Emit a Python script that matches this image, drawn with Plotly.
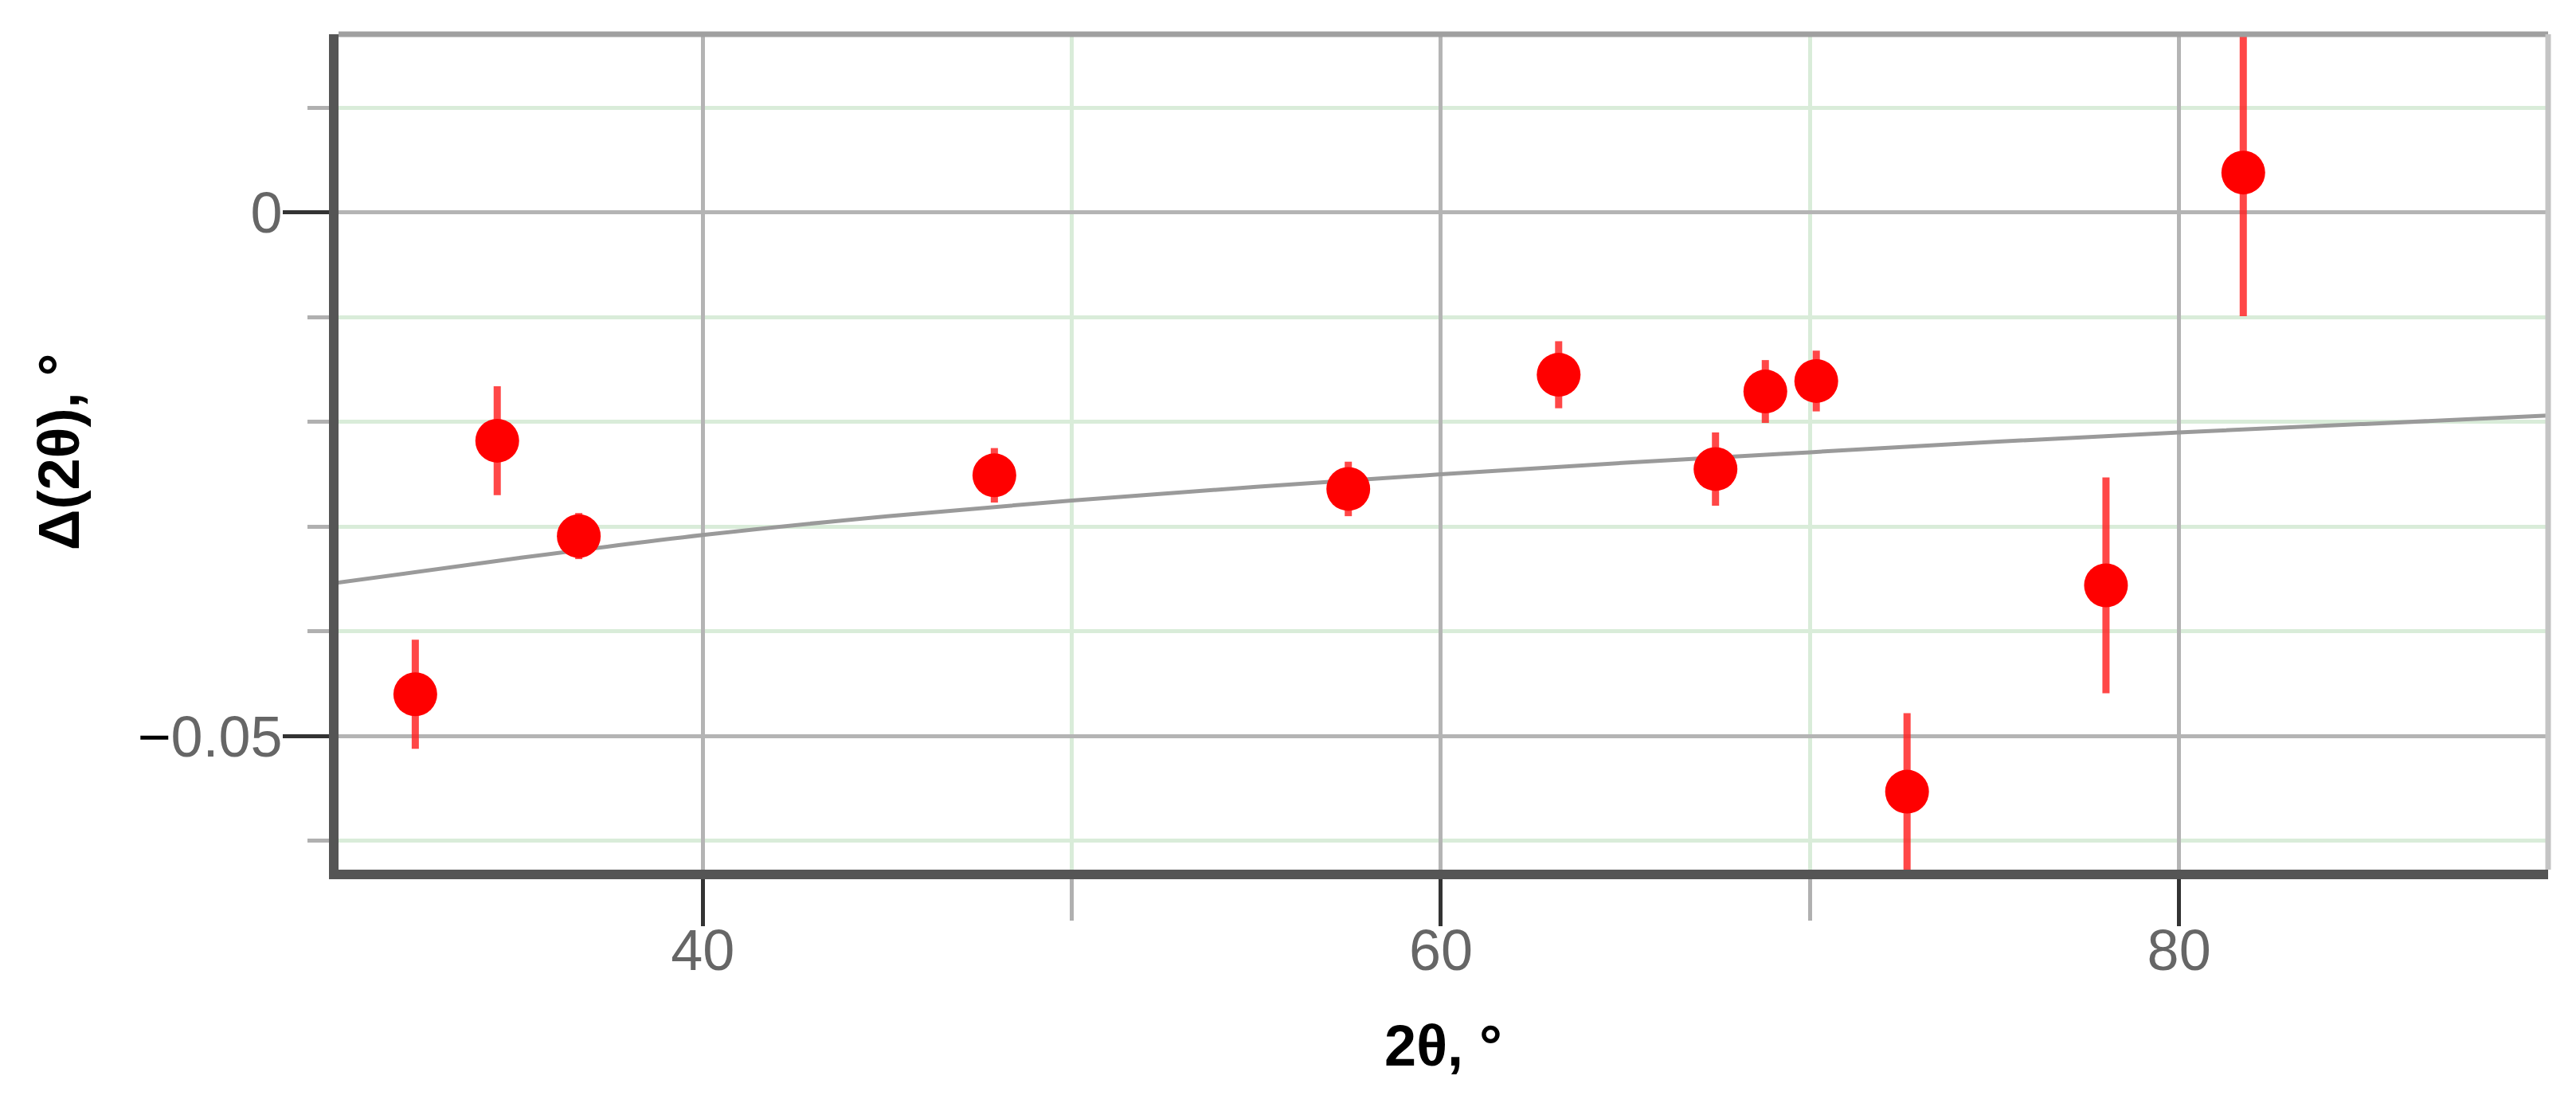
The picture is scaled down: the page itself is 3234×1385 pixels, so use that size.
import plotly.graph_objects as go

two_theta = [32.21, 34.43, 36.64, 47.9, 57.49, 63.19, 67.44, 68.79, 70.17, 72.63, 78.02, 81.74]
delta = [-0.0460, -0.0218, -0.0309, -0.0251, -0.0264, -0.0155, -0.0245, -0.0171, -0.0161, -0.0553, -0.0356, 0.0038]
delta_err = [0.0052, 0.0052, 0.0022, 0.0026, 0.0026, 0.0032, 0.0035, 0.0030, 0.0029, 0.0075, 0.0103, 0.0137]

# fitted curve
fit_x = [30, 35, 40, 45, 50, 55, 60, 65, 70, 75, 80, 85, 90]
fit_y = [-0.0354, -0.0330, -0.0308, -0.0290, -0.0275, -0.0262, -0.0250, -0.0239, -0.0229, -0.0219, -0.0210, -0.0202, -0.0194]

x_tick_vals = [40, 60, 80]
x_tick_text = ['40', '60', '80']
x_minor_vals = [50, 70]
y_tick_vals = [-0.05, 0]
y_tick_text = ["<span style='color:#000'>\u2212</span>0.05", '0']

FONT = 'Liberation Sans, Arial, sans-serif'

fig = go.Figure()

fig.add_trace(go.Scatter(
    x=fit_x, y=fit_y,
    mode='lines',
    line=dict(color='#9a9a9a', width=5, shape='spline'),
    hoverinfo='skip',
    showlegend=False,
))

fig.add_trace(go.Scatter(
    x=two_theta, y=delta,
    mode='markers',
    marker=dict(color='#ff0000', size=55, line=dict(width=0)),
    error_y=dict(type='data', array=delta_err, color='rgba(255,30,30,0.82)',
                 thickness=9, width=0),
    cliponaxis=False,
    showlegend=False,
))

fig.update_layout(
    width=3234, height=1385,
    margin=dict(l=417, r=43, t=35, b=301),
    paper_bgcolor='white', plot_bgcolor='white',
    font=dict(family=FONT, size=72, color='#666666'),
    # top and right frame lines are lighter than the axis lines
    shapes=[
        dict(type='line', xref='paper', yref='paper', x0=0, x1=1, y0=1, y1=1,
             line=dict(color='#a0a0a0', width=7), layer='above'),
        dict(type='line', xref='paper', yref='paper', x0=1, x1=1, y0=0, y1=1,
             line=dict(color='#c4c4c4', width=7), layer='above'),
    ],
)

fig.update_xaxes(
    range=[30.13, 90],
    tickmode='array', tickvals=x_tick_vals, ticktext=x_tick_text,
    ticks='outside', ticklen=59, tickwidth=5, tickcolor='#333333',
    tickfont=dict(size=72, color='#666666'), ticklabelstandoff=-31,
    showline=True, linecolor='#555555', linewidth=12, mirror=False,
    showgrid=True, gridcolor='#b4b4b4', gridwidth=5,
    zeroline=False,
    minor=dict(tickmode='array', tickvals=x_minor_vals, ticks='outside', ticklen=52,
               tickwidth=5, tickcolor='#b0b0b0',
               showgrid=True, gridcolor='#d9ecd9', gridwidth=5),
    title=dict(text='<b>2θ, °</b>', font=dict(size=72, color='#000000'), standoff=60),
)

fig.update_yaxes(
    range=[-0.06274, 0.0170],
    tickmode='array', tickvals=y_tick_vals, ticktext=y_tick_text,
    ticks='outside', ticklen=58, tickwidth=5, tickcolor='#333333',
    tickfont=dict(size=72, color='#666666'), ticklabelstandoff=-14,
    showline=True, linecolor='#555555', linewidth=12, mirror=False,
    showgrid=True, gridcolor='#b4b4b4', gridwidth=5,
    zeroline=False,
    minor=dict(tickmode='linear', tick0=0, dtick=0.01, ticks='outside', ticklen=27,
               tickwidth=5, tickcolor='#b0b0b0',
               showgrid=True, gridcolor='#d9ecd9', gridwidth=5),
    title=dict(text='<b>Δ(2θ), °</b>', font=dict(size=72, color='#000000'), standoff=54),
)

fig.write_html("out.html")
